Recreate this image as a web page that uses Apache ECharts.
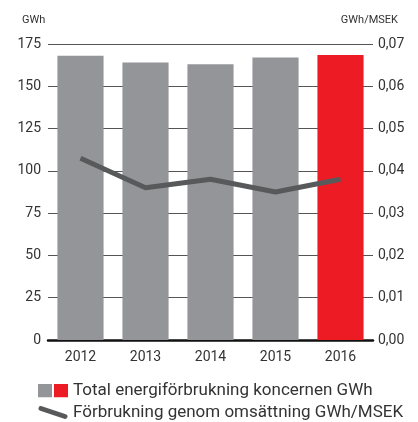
<!DOCTYPE html>
<html>
<head>
<meta charset="utf-8">
<script src="https://cdn.jsdelivr.net/npm/echarts@6/dist/echarts.min.js"></script>
<style>
  html, body { margin: 0; padding: 0; background: #fff; }
  #main { width: 418px; height: 422px; }
</style>
</head>
<body>
<div id="main"></div>
<script>
var years = ['2012', '2013', '2014', '2015', '2016'];
var energyGWh = [168, 164, 163, 167, 168.5];
var perMsek = [0.043, 0.036, 0.038, 0.035, 0.038];

var barName = 'Total energiförbrukning koncernen GWh';
var lineName = 'Förbrukning genom omsättning GWh/MSEK';

var barColors = ['#939598', '#939598', '#939598', '#939598', '#ED1C24'];

var font = "'Liberation Sans Narrow', 'Arial Narrow', Roboto, sans-serif";

function svgIcon(svg) {
  return 'image://data:image/svg+xml;charset=utf-8,' + encodeURIComponent(svg);
}
var barIcon = svgIcon('<svg xmlns="http://www.w3.org/2000/svg" width="30" height="14"><rect x="0" y="0" width="14" height="14" fill="#939598"/><rect x="16" y="0" width="14" height="14" fill="#ED1C24"/></svg>');
var lineIcon = svgIcon('<svg xmlns="http://www.w3.org/2000/svg" width="30" height="14"><line x1="3" y1="3" x2="27" y2="11" stroke="#58595B" stroke-width="5" stroke-linecap="round"/></svg>');

var legendCommon = {
  left: 33,
  itemWidth: 30,
  itemHeight: 14,
  itemGap: 8,
  selectedMode: false,
  textStyle: { fontSize: 17, color: '#333', fontFamily: font }
};

var chart = echarts.init(document.getElementById('main'));

var option = {
  animation: false,
  textStyle: { fontFamily: font },
  title: [
    { text: 'GWh', left: 17, top: 10, textStyle: { fontSize: 11, fontWeight: 'normal', color: '#333', fontFamily: font } },
    { text: 'GWh/MSEK', right: 15, top: 10, textStyle: { fontSize: 11, fontWeight: 'normal', color: '#333', fontFamily: font } }
  ],
  grid: {
    left: 48,
    right: 45,
    top: 44,
    bottom: 82
  },
  legend: [
    Object.assign({}, legendCommon, { top: 377, data: [{ name: barName, icon: barIcon }] }),
    Object.assign({}, legendCommon, { top: 399, data: [{ name: lineName, icon: lineIcon }] })
  ],
  xAxis: {
    type: 'category',
    data: years,
    axisLine: { lineStyle: { color: '#111', width: 2.5 } },
    axisTick: { show: false },
    axisLabel: { color: '#333', fontSize: 14, margin: 10 }
  },
  yAxis: [
    {
      type: 'value',
      min: 0,
      max: 175,
      interval: 25,
      axisLine: { show: false },
      axisTick: { show: false },
      axisLabel: { color: '#333', fontSize: 14, margin: 7 },
      splitLine: { lineStyle: { color: '#555', width: 1 } }
    },
    {
      type: 'value',
      min: 0,
      max: 0.07,
      interval: 0.01,
      axisLine: { show: false },
      axisTick: { show: false },
      splitLine: { show: false },
      axisLabel: {
        color: '#333',
        fontSize: 14,
        margin: 5,
        formatter: function (v) { return v.toFixed(2).replace('.', ','); }
      }
    }
  ],
  series: [
    {
      name: barName,
      type: 'bar',
      barWidth: '71%',
      data: energyGWh,
      itemStyle: {
        color: function (p) { return barColors[p.dataIndex]; }
      }
    },
    {
      name: lineName,
      type: 'line',
      yAxisIndex: 1,
      data: perMsek,
      symbol: 'none',
      lineStyle: { color: '#58595B', width: 5 },
      itemStyle: { color: '#58595B' }
    }
  ]
};

chart.setOption(option);
</script>
</body>
</html>
